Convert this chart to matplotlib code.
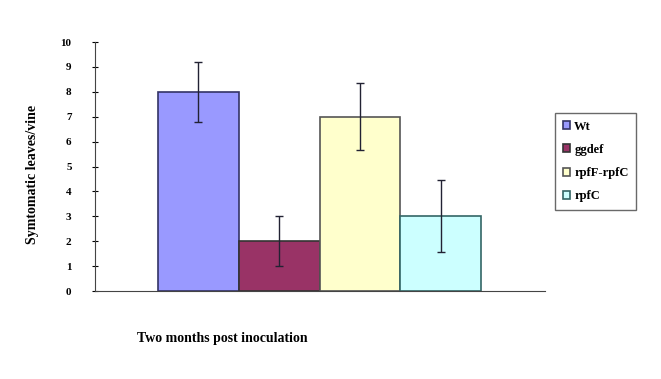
import matplotlib
matplotlib.use("Agg")
import matplotlib.pyplot as plt

labels = ["Wt", "ggdef", "rpfF-rpfC", "rpfC"]
values = [8, 2, 7, 3]
errors = [1.2, 1.0, 1.35, 1.45]
colors = ["#9999FF", "#993366", "#FFFFCC", "#CCFFFF"]
edge_colors = ["#333366", "#333333", "#555555", "#336666"]
yticks = list(range(0, 11))

plt.rcParams['font.family'] = ['Liberation Serif', 'DejaVu Serif']

fig = plt.figure(figsize=(6.61, 3.79), dpi=100)
ax = fig.add_axes([0.144, 0.232, 0.68, 0.657])

for i, (lab, v, e, c, ec) in enumerate(zip(labels, values, errors, colors, edge_colors)):
    ax.bar(i, v, width=1.0, color=c, edgecolor=ec, linewidth=1.2, label=lab)
    ax.errorbar(i, v, yerr=e, color="#222233", capsize=3, elinewidth=1.0, capthick=1.0)

ax.set_xlim(-1.28, 4.29)
ax.set_ylim(0, 10)
ax.set_yticks(yticks)
ax.set_yticklabels([str(t) for t in yticks], fontsize=8, fontweight='bold')
ax.tick_params(axis='y', direction='inout', length=4, width=0.8, pad=15)
ax.set_xticks([])
for s in ['top', 'right']:
    ax.spines[s].set_visible(False)
ax.spines['left'].set_color('#444444')
ax.spines['bottom'].set_color('#444444')

ax.set_ylabel("Symtomatic leaves/vine", fontsize=10, fontweight='bold')
ax.yaxis.set_label_coords(-0.125, 0.47)
ax.set_xlabel("Two months post inoculation", fontsize=10, fontweight='bold')
ax.xaxis.set_label_coords(0.093, -0.165)
ax.xaxis.label.set_horizontalalignment('left')

leg = ax.legend(loc='upper left', bbox_to_anchor=(1.01, 0.74),
                prop={'weight': 'bold', 'size': 9}, frameon=True, fancybox=False,
                edgecolor='#444444', handlelength=0.6, handleheight=0.6,
                handletextpad=0.3, borderpad=0.6, labelspacing=0.9)

fig.savefig("out.png", dpi=100, facecolor='white')
